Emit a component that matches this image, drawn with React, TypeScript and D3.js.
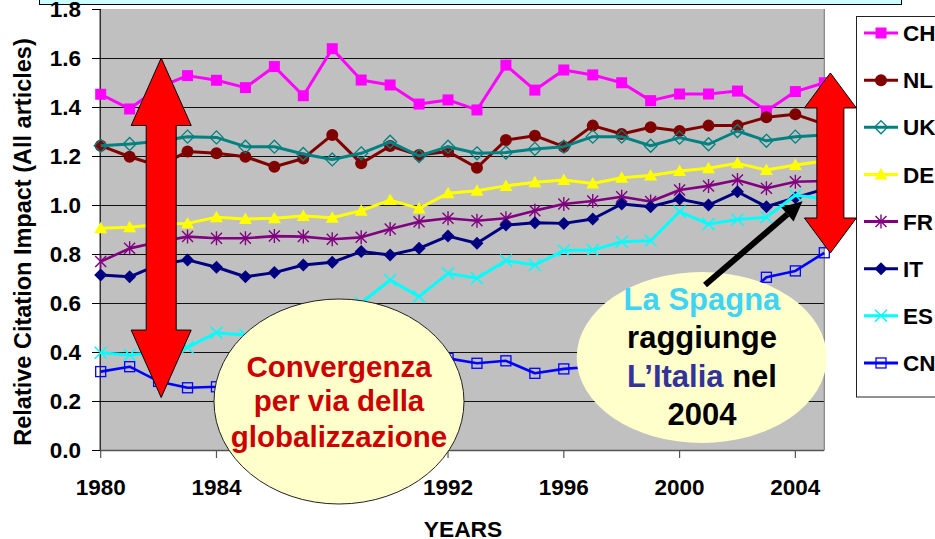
import React from "react";
import * as d3 from "d3";

const years = d3.range(1980, 2006);
const seriesNames = ["CH", "NL", "UK", "DE", "FR", "IT", "ES", "CN"];

const CH = [1.452, 1.392, 1.48, 1.528, 1.509, 1.479, 1.565, 1.446, 1.638, 1.51, 1.49, 1.412, 1.429, 1.388, 1.571, 1.469, 1.551, 1.531, 1.499, 1.426, 1.453, 1.453, 1.465, 1.384, 1.463, 1.499];
const NL = [1.242, 1.197, 1.16, 1.218, 1.211, 1.197, 1.156, 1.19, 1.286, 1.17, 1.241, 1.204, 1.218, 1.152, 1.265, 1.283, 1.238, 1.324, 1.29, 1.317, 1.302, 1.324, 1.324, 1.358, 1.37, 1.33];
const UK = [1.242, 1.249, 1.26, 1.279, 1.276, 1.238, 1.238, 1.208, 1.186, 1.211, 1.258, 1.2, 1.238, 1.211, 1.214, 1.229, 1.238, 1.279, 1.279, 1.242, 1.275, 1.248, 1.302, 1.262, 1.279, 1.286];
const DE = [0.905, 0.909, 0.92, 0.925, 0.95, 0.943, 0.946, 0.955, 0.948, 0.977, 1.02, 0.986, 1.048, 1.058, 1.078, 1.093, 1.102, 1.088, 1.111, 1.12, 1.139, 1.15, 1.17, 1.143, 1.163, 1.18];
const FR = [0.769, 0.823, 0.849, 0.871, 0.864, 0.864, 0.873, 0.871, 0.86, 0.868, 0.902, 0.932, 0.946, 0.936, 0.946, 0.977, 1.004, 1.016, 1.034, 1.014, 1.061, 1.078, 1.102, 1.068, 1.095, 1.098];
const IT = [0.714, 0.707, 0.757, 0.776, 0.746, 0.707, 0.724, 0.755, 0.766, 0.81, 0.796, 0.823, 0.873, 0.844, 0.918, 0.928, 0.925, 0.943, 1.004, 0.993, 1.024, 1.0, 1.054, 0.993, 1.03, 1.065];
const ES = [0.397, 0.388, 0.4, 0.419, 0.479, 0.469, 0.5, 0.53, 0.57, 0.6, 0.694, 0.626, 0.721, 0.701, 0.773, 0.755, 0.814, 0.816, 0.85, 0.854, 0.973, 0.922, 0.941, 0.95, 1.04, 1.027];
const CN = [0.32, 0.34, 0.28, 0.254, 0.258, 0.27, 0.29, 0.3, 0.32, 0.34, 0.35, 0.38, 0.374, 0.354, 0.364, 0.313, 0.331, 0.34, 0.36, 0.4, 0.45, 0.52, 0.6, 0.705, 0.731, 0.805];

const yTicks = [0, 0.2, 0.4, 0.6, 0.8, 1.0, 1.2, 1.4, 1.6, 1.8];
const xTicks = [1980, 1984, 1988, 1992, 1996, 2000, 2004];

const seriesValues = [CH, NL, UK, DE, FR, IT, ES, CN];
const seriesColors = ["#FF00FF", "#800000", "#008080", "#FFFF00", "#800080", "#000080", "#00FFFF", "#0000FF"];
const seriesMarkers = ["square", "circle", "diamondOpen", "triangle", "star", "diamond", "x", "squareOpen"];

const FONT = "'Liberation Sans', Arial, Helvetica, sans-serif";

function Marker({ type, x, y, color }: { type: string; x: number; y: number; color: string }) {
  switch (type) {
    case "square":
      return <rect x={x - 5.5} y={y - 5.5} width={11} height={11} fill={color} />;
    case "circle":
      return <circle cx={x} cy={y} r={6} fill={color} />;
    case "diamondOpen":
      return <path d={`M${x},${y - 6.5}L${x + 6.5},${y}L${x},${y + 6.5}L${x - 6.5},${y}Z`} fill="none" stroke={color} strokeWidth={1.3} />;
    case "diamond":
      return <path d={`M${x},${y - 6.5}L${x + 6.5},${y}L${x},${y + 6.5}L${x - 6.5},${y}Z`} fill={color} />;
    case "triangle":
      return <path d={`M${x},${y - 6.5}L${x + 6.5},${y + 5}L${x - 6.5},${y + 5}Z`} fill={color} />;
    case "star":
      return (
        <path d={`M${x - 5.5},${y - 5.5}L${x + 5.5},${y + 5.5}M${x + 5.5},${y - 5.5}L${x - 5.5},${y + 5.5}M${x},${y - 7}L${x},${y + 7}`} stroke={color} strokeWidth={1.4} fill="none" />
      );
    case "x":
      return <path d={`M${x - 6},${y - 6}L${x + 6},${y + 6}M${x + 6},${y - 6}L${x - 6},${y + 6}`} stroke={color} strokeWidth={1.5} fill="none" />;
    case "squareOpen":
      return <rect x={x - 5} y={y - 5} width={10} height={10} fill="none" stroke={color} strokeWidth={1.3} />;
  }
  return null;
}

function doubleArrow(cx: number, yTop: number, yBot: number, headH: number, headHalf: number, shaftHalf: number) {
  return [
    [cx, yTop],
    [cx + headHalf, yTop + headH],
    [cx + shaftHalf, yTop + headH],
    [cx + shaftHalf, yBot - headH],
    [cx + headHalf, yBot - headH],
    [cx, yBot],
    [cx - headHalf, yBot - headH],
    [cx - shaftHalf, yBot - headH],
    [cx - shaftHalf, yTop + headH],
    [cx - headHalf, yTop + headH],
  ]
    .map((p, i) => (i === 0 ? "M" : "L") + p[0] + "," + p[1])
    .join("") + "Z";
}

export default function App() {
  const W = 935;
  const H = 539;
  const left = 100.7;
  const right = 824.3;
  const top = 9;
  const bottom = 450;

  const x = d3.scaleLinear().domain([1980, 2005]).range([left, right]);
  const y = d3.scaleLinear().domain([0, 1.8]).range([bottom, top]);

  const line = d3
    .line<number>()
    .x((_, i) => x(years[i]))
    .y((d) => y(d));

  // Annotation geometry in data space
  const leftArrow = doubleArrow(x(1982.09), y(1.6), y(0.214), 67.5, 30, 15);
  const rightArrow = doubleArrow(x(2005.21), y(1.539), y(0.804), 35, 26, 13.5);

  // black pointer arrow
  const ax0 = 705, ay0 = 285;
  const ax1 = x(2004.25), ay1 = y(1.015);
  const ang = Math.atan2(ay1 - ay0, ax1 - ax0);
  const hl = 20, hw = 9.5;
  const bx = ax1 - hl * Math.cos(ang), by = ay1 - hl * Math.sin(ang);
  const px = -Math.sin(ang), py = Math.cos(ang);

  const legendY = (i: number) => 33 + 47.14 * i;

  return (
    <svg width={W} height={H} style={{ position: "absolute", left: 0, top: 0, background: "#fff" }} fontFamily={FONT} fontWeight="bold">
      {/* title box (clipped) */}
      <rect x={39.5} y={-20} width={862} height={24.5} fill="#CCFFFF" stroke="#000" strokeWidth={1} />

      {/* plot area */}
      <rect x={left} y={top} width={right - left} height={bottom - top} fill="#C0C0C0" />
      {yTicks.filter((t) => t > 0 && t < 1.8).map((t) => (
        <line key={t} x1={left} x2={right} y1={Math.round(y(t)) + 0.5} y2={Math.round(y(t)) + 0.5} stroke="#111" strokeWidth={1} />
      ))}
      <line x1={right} x2={right} y1={top} y2={bottom} stroke="#808080" strokeWidth={1.2} />
      <line x1={left} x2={right} y1={bottom + 0.5} y2={bottom + 0.5} stroke="#555" strokeWidth={1.5} />
      <line x1={left - 0.5} x2={left - 0.5} y1={top} y2={bottom} stroke="#000" strokeWidth={1.2} />

      {/* y ticks */}
      {yTicks.map((t) => (
        <g key={t}>
          <line x1={92} x2={left} y1={Math.round(y(t)) + 0.5} y2={Math.round(y(t)) + 0.5} stroke="#000" strokeWidth={1} />
          <text x={81} y={y(t)} dy="0.36em" textAnchor="end" fontSize={22.5} fill="#000">
            {t.toFixed(1)}
          </text>
        </g>
      ))}
      {/* x ticks */}
      {xTicks.map((t) => (
        <g key={t}>
          <line x1={x(t)} x2={x(t)} y1={bottom} y2={bottom + 8} stroke="#555" strokeWidth={1.2} />
          <text x={x(t)} y={495} textAnchor="middle" fontSize={22.5} fill="#000">
            {t}
          </text>
        </g>
      ))}
      <text x={463} y={536.5} textAnchor="middle" fontSize={22.8} fill="#000">
        YEARS
      </text>
      <text transform="translate(31,242) rotate(-90)" textAnchor="middle" fontSize={23.5} fill="#000">
        Relative Citation Impact (All articles)
      </text>

      {/* series */}
      {seriesValues.map((vals, si) => (
        <g key={seriesNames[si]}>
          <path d={line(vals) || ""} fill="none" stroke={seriesColors[si]} strokeWidth={si === 4 || si === 7 ? 2.6 : 3} strokeLinejoin="round" />
          {vals.map((v, i) => (
            <Marker key={i} type={seriesMarkers[si]} x={x(years[i])} y={y(v)} color={seriesColors[si]} />
          ))}
        </g>
      ))}

      {/* legend */}
      <rect x={856.5} y={16.5} width={100} height={380.5} fill="#fff" stroke="#222" strokeWidth={1} />
      {seriesNames.map((n, i) => (
        <g key={n}>
          <line x1={864} x2={898} y1={legendY(i)} y2={legendY(i)} stroke={seriesColors[i]} strokeWidth={3} />
          <Marker type={seriesMarkers[i]} x={881} y={legendY(i)} color={seriesColors[i]} />
          <text x={903} y={legendY(i)} dy="0.36em" fontSize={22.5} fill="#000">
            {n}
          </text>
        </g>
      ))}

      {/* red double arrows */}
      <path d={leftArrow} fill="#FF0000" stroke="#000" strokeWidth={1} strokeLinejoin="miter" />
      <path d={rightArrow} fill="#FF0000" stroke="#000" strokeWidth={1} strokeLinejoin="miter" />

      {/* ellipse 1 */}
      <ellipse cx={339} cy={401.5} rx={125} ry={102.5} fill="#FFFFCC" stroke="#222" strokeWidth={1} />
      <g fontSize={29.5} fill="#CC0000" textAnchor="middle">
        <text x={339} y={376.7}>Convergenza</text>
        <text x={339} y={411}>per via della</text>
        <text x={339} y={446.7}>globalizzazione</text>
      </g>

      {/* ellipse 2 */}
      <ellipse cx={701.7} cy={357.5} rx={125} ry={85.5} fill="#FFFFCC" />
      <g fontSize={31} textAnchor="middle">
        <text x={702} y={310} fill="#3FD3F5">La Spagna</text>
        <text x={702} y={348.3} fill="#000">raggiunge</text>
        <text x={702} y={386.7}>
          <tspan fill="#333399">L’Italia</tspan>
          <tspan fill="#000"> nel</tspan>
        </text>
        <text x={702} y={425} fill="#000">2004</text>
      </g>

      {/* black pointer arrow */}
      <line x1={ax0} y1={ay0} x2={bx} y2={by} stroke="#000" strokeWidth={6} />
      <path d={`M${ax1},${ay1}L${bx + px * hw},${by + py * hw}L${bx - px * hw},${by - py * hw}Z`} fill="#000" />
    </svg>
  );
}
